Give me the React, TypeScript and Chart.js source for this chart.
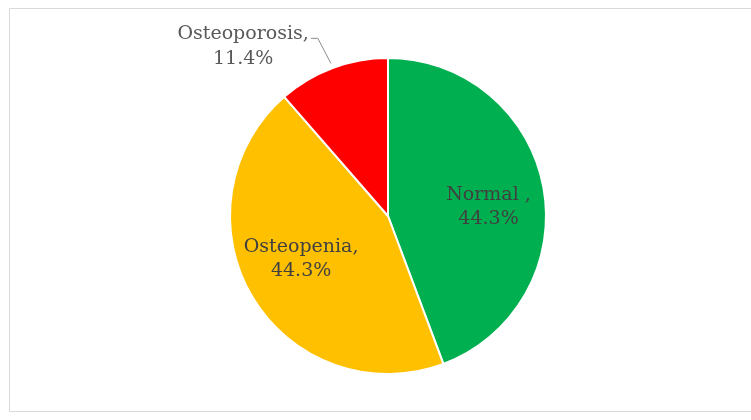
import React, { useEffect, useRef } from "react";
import { Chart, registerables } from "chart.js";

Chart.register(...registerables);

const categories = ["Normal", "Osteopenia", "Osteoporosis"];
const shares = [44.3, 44.3, 11.4];
const sliceColors = ["#00B050", "#FFC000", "#FF0000"];
const labelTitles = ["Normal ,", "Osteopenia,", "Osteoporosis,"];

const FONT = '19px "DejaVu Serif", "Liberation Serif", serif';

// nudges for the inside labels, in pixels
const insideShift = [
  { dx: 1, dy: 9 },
  { dx: 0, dy: -9 },
];

const labelPlugin = {
  id: "sliceLabels",
  afterDatasetsDraw(chart: any) {
    const ctx = chart.ctx;
    const meta = chart.getDatasetMeta(0);
    ctx.save();
    ctx.font = FONT;
    ctx.textAlign = "center";
    ctx.textBaseline = "middle";
    meta.data.forEach((arc: any, i: number) => {
      const { x, y, startAngle, endAngle, outerRadius } = arc.getProps(
        ["x", "y", "startAngle", "endAngle", "outerRadius"],
        true
      );
      const mid = (startAngle + endAngle) / 2;
      const text2 = shares[i].toFixed(1) + "%";
      if (i < 2) {
        const r = outerRadius * 0.64;
        const cx = x + Math.cos(mid) * r + insideShift[i].dx;
        const cy = y + Math.sin(mid) * r + insideShift[i].dy;
        ctx.fillStyle = "#404040";
        ctx.fillText(labelTitles[i], cx, cy - 12);
        ctx.fillText(text2, cx, cy + 12);
      } else {
        // outside label with a leader line
        const ex = x + Math.cos(mid) * (outerRadius + 5);
        const ey = y + Math.sin(mid) * (outerRadius + 5);
        const lx = ex - 13;
        const ly = ey - 25;
        ctx.strokeStyle = "#8c8c8c";
        ctx.lineWidth = 1;
        ctx.beginPath();
        ctx.moveTo(ex, ey);
        ctx.lineTo(lx, ly);
        ctx.lineTo(lx - 7, ly);
        ctx.stroke();
        const tw = ctx.measureText(labelTitles[i]).width;
        const tx = lx - 9 - tw / 2;
        ctx.fillStyle = "#595959";
        ctx.fillText(labelTitles[i], tx, ly - 4);
        ctx.fillText(text2, tx, ly + 21);
      }
    });
    ctx.restore();
  },
};

const framePlugin = {
  id: "frame",
  beforeDraw(chart: any) {
    const ctx = chart.ctx;
    ctx.save();
    ctx.fillStyle = "#ffffff";
    ctx.fillRect(0, 0, chart.width, chart.height);
    ctx.strokeStyle = "#d9d9d9";
    ctx.lineWidth = 1;
    ctx.beginPath();
    ctx.moveTo(chart.width + 2, 8.5);
    ctx.lineTo(9.5, 8.5);
    ctx.lineTo(9.5, 411.5);
    ctx.lineTo(chart.width + 2, 411.5);
    ctx.stroke();
    ctx.restore();
  },
};

export default function App() {
  const ref = useRef<HTMLCanvasElement | null>(null);
  useEffect(() => {
    if (!ref.current) return;
    const chart = new Chart(ref.current, {
      type: "pie",
      data: {
        labels: categories,
        datasets: [
          {
            data: shares,
            backgroundColor: sliceColors,
            borderColor: "#ffffff",
            borderWidth: 2,
          },
        ],
      },
      options: {
        responsive: false,
        animation: false,
        radius: 158,
        layout: { padding: { top: 58, bottom: 46, left: 230, right: 205 } },
        plugins: {
          legend: { display: false },
          tooltip: { enabled: false },
        },
      } as any,
      plugins: [framePlugin, labelPlugin],
    });
    return () => chart.destroy();
  }, []);
  return (
    <div style={{ position: "fixed", left: 0, top: 0, width: 751, height: 420, background: "#fff" }}>
      <canvas ref={ref} width={751} height={420} style={{ display: "block" }} />
    </div>
  );
}
